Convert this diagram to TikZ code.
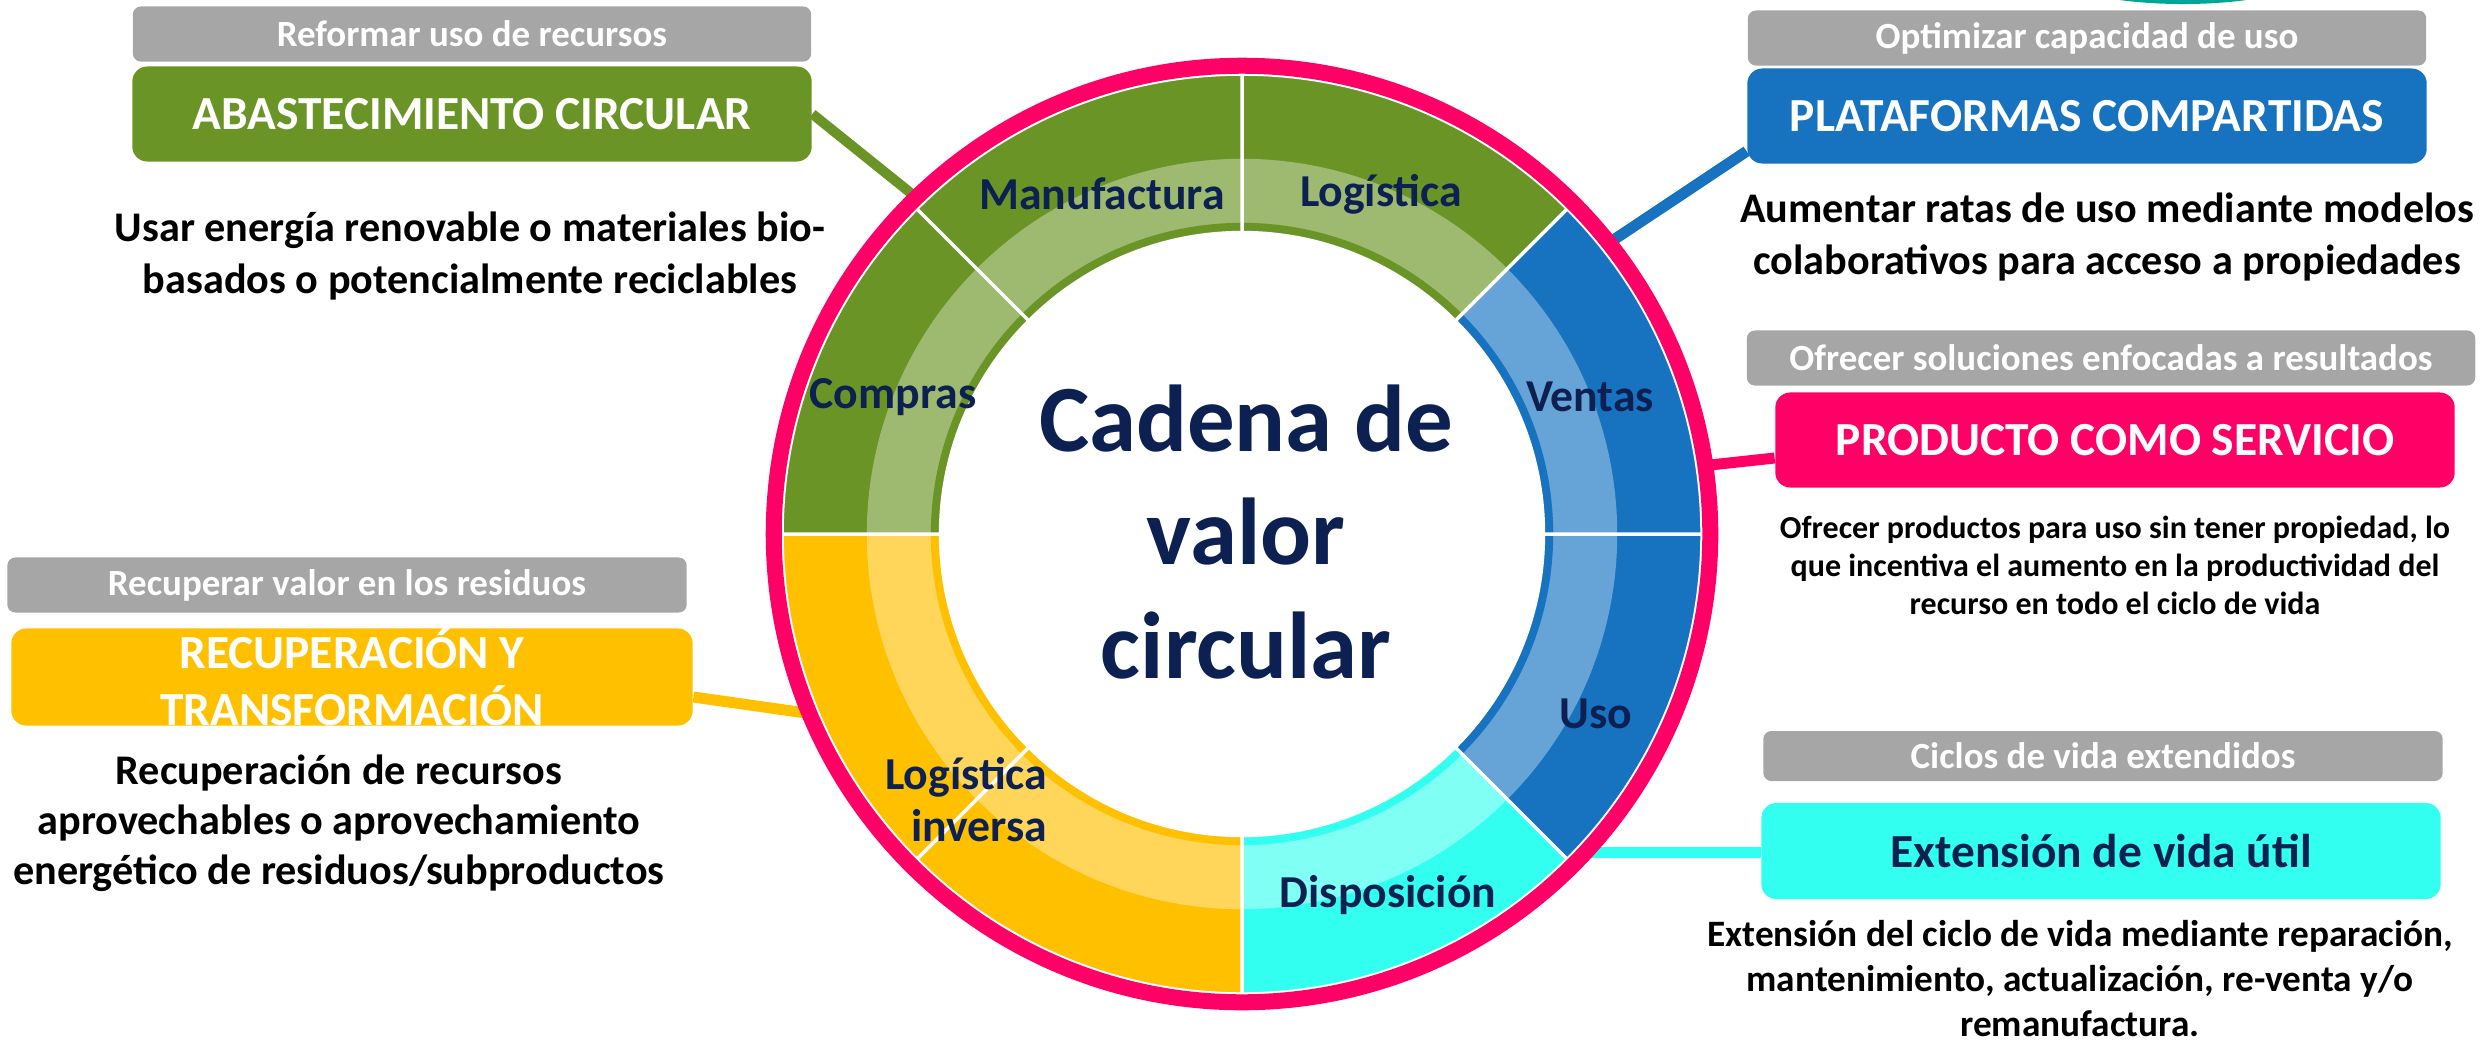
\documentclass[tikz,border=0pt]{standalone}
\usepackage{xcolor}
\usepackage{fontspec}
\setmainfont{Carlito}
\usepackage{tikz}

\definecolor{verdeO}{HTML}{6A9526}
\definecolor{verdeC}{HTML}{9EB970}
\definecolor{azulO}{HTML}{1772BF}
\definecolor{azulC}{HTML}{66A3D6}
\definecolor{cianO}{HTML}{33FFF0}
\definecolor{cianC}{HTML}{80FFF5}
\definecolor{amarO}{HTML}{FFC000}
\definecolor{amarC}{HTML}{FFD55A}
\definecolor{rosa}{HTML}{FF0066}
\definecolor{gris}{HTML}{A6A6A6}
\definecolor{marino}{HTML}{0C2152}
\definecolor{verdeAzul}{HTML}{00A696}

\begin{document}
\begin{tikzpicture}[x=0.01cm,y=0.01cm]
		\tikzstyle{every node}+=[inner sep=0pt]
		\tikzstyle{etiqueta}=[fill=gris, rounded corners=0.08cm, text=white, minimum height=0.55cm, font=\bfseries\fontsize{10.5}{12.6}\selectfont]
		\tikzstyle{caja}=[rounded corners=0.15cm, minimum width=6.79cm, minimum height=0.95cm, text=white, align=center, font=\bfseries\fontsize{13.5}{16.2}\selectfont]
		\tikzstyle{texto}=[align=center, font=\bfseries\fontsize{12}{14.8}\selectfont]
		\tikzstyle{seg}=[text=marino, align=right, font=\bfseries\fontsize{13}{14.8}\selectfont]
		\tikzstyle{enlace}=[line width=0.11cm]
		\useasboundingbox (0,0) rectangle (2483,1044);
		\clip (0,0) rectangle (2483,1044);
		% trozo cortado arriba
		\fill [verdeAzul] (2183,1070) ellipse [x radius=1.27cm, y radius=0.3cm];
		% centro y puntos del anillo
		\coordinate (c) at (1242,510);
		\coordinate (pVerde) at ([shift={(134.1:4.7cm)}]c);
		\coordinate (pAzul) at ([shift={(38.4:4.7cm)}]c);
		\coordinate (pRosa) at ([shift={(8.4:4.7cm)}]c);
		\coordinate (pAmar) at ([shift={(202.4:4.7cm)}]c);
		\coordinate (pCian) at ([shift={(-42.6:4.7cm)}]c);
		% cajas
		\node [etiqueta, minimum width=6.78cm] (abastTag) at (472,1010) {Reformar uso de recursos};
		\node [caja, fill=verdeO] (abast) at (472,930) {ABASTECIMIENTO CIRCULAR};
		\node [texto] (abastTxt) at (470,788) {Usar energía renovable o materiales bio-\\basados o potencialmente reciclables};
		\node [etiqueta, minimum width=6.78cm] (platTag) at (2087,1006) {Optimizar capacidad de uso};
		\node [caja, fill=azulO] (plat) at (2087,928) {PLATAFORMAS COMPARTIDAS};
		\node [texto] (platTxt) at (2107,807) {Aumentar ratas de uso mediante modelos\\colaborativos para acceso a propiedades};
		\node [etiqueta, minimum width=7.28cm] (prodTag) at (2111,686) {Ofrecer soluciones enfocadas a resultados};
		\node [caja, fill=rosa] (prod) at (2115,604) {PRODUCTO COMO SERVICIO};
		\node [texto, font=\bfseries\fontsize{9.1}{10.8}\selectfont] (prodTxt) at (2115,479) {Ofrecer productos para uso sin tener propiedad, lo\\que incentiva el aumento en la productividad del\\recurso en todo el ciclo de vida};
		\node [etiqueta, minimum width=6.79cm] (recupTag) at (347,459) {Recuperar valor en los residuos};
		\node [caja, fill=amarO, minimum width=6.81cm] (recup) at (352,367) {RECUPERACIÓN Y\\TRANSFORMACIÓN};
		\node [texto, font=\bfseries\fontsize{12}{14.2}\selectfont] (recupTxt) at (339,221) {Recuperación de recursos\\aprovechables o aprovechamiento\\energético de residuos/subproductos};
		\node [etiqueta, minimum width=6.79cm, minimum height=0.5cm] (extTag) at (2103,288) {Ciclos de vida extendidos};
		\node [caja, fill=cianO, text=marino, minimum height=0.96cm] (ext) at (2101,193) {Extensión de vida útil};
		\node [texto, font=\bfseries\fontsize{10.6}{12.8}\selectfont] (extTxt) at (2080,65) {Extensión del ciclo de vida mediante reparación,\\mantenimiento, actualización, re-venta y/o\\remanufactura.};
		% enlaces
		\draw [verdeO, line width=0.1cm] (abast.east) -- (pVerde);
		\draw [azulO, enlace] ([yshift=0.13cm]plat.south west) -- (pAzul);
		\draw [rosa, enlace] ([yshift=-0.18cm]prod.west) -- (pRosa);
		\draw [amarO, enlace] ([yshift=-0.2cm]recup.east) -- (pAmar);
		\draw [cianO, enlace] (ext.west |- pCian) -- (pCian);
		% rueda
		\fill [verdeO] (c) -- ++(45:4.59cm) arc [start angle=45, end angle=180, radius=4.59cm] -- cycle;
		\fill [verdeC] (c) -- ++(45:3.75cm) arc [start angle=45, end angle=180, radius=3.75cm] -- cycle;
		\fill [verdeO] (c) -- ++(45:3.11cm) arc [start angle=45, end angle=180, radius=3.11cm] -- cycle;
		\fill [azulO] (c) -- ++(-45:4.59cm) arc [start angle=-45, end angle=45, radius=4.59cm] -- cycle;
		\fill [azulC] (c) -- ++(-45:3.75cm) arc [start angle=-45, end angle=45, radius=3.75cm] -- cycle;
		\fill [azulO] (c) -- ++(-45:3.11cm) arc [start angle=-45, end angle=45, radius=3.11cm] -- cycle;
		\fill [cianO] (c) -- ++(-90:4.59cm) arc [start angle=-90, end angle=-45, radius=4.59cm] -- cycle;
		\fill [cianC] (c) -- ++(-90:3.75cm) arc [start angle=-90, end angle=-45, radius=3.75cm] -- cycle;
		\fill [cianO] (c) -- ++(-90:3.11cm) arc [start angle=-90, end angle=-45, radius=3.11cm] -- cycle;
		\fill [amarO] (c) -- ++(180:4.59cm) arc [start angle=180, end angle=270, radius=4.59cm] -- cycle;
		\fill [amarC] (c) -- ++(180:3.75cm) arc [start angle=180, end angle=270, radius=3.75cm] -- cycle;
		\fill [amarO] (c) -- ++(180:3.11cm) arc [start angle=180, end angle=270, radius=3.11cm] -- cycle;
		\draw [white, line width=0.035cm] (c) -- ++(0:4.6cm) (c) -- ++(45:4.6cm) (c) -- ++(90:4.6cm) (c) -- ++(135:4.6cm)
			(c) -- ++(180:4.6cm) (c) -- ++(225:4.6cm) (c) -- ++(270:4.6cm) (c) -- ++(315:4.6cm);
		\draw [white, line width=0.03cm] (c) circle (4.595cm);
		\fill [white] (c) circle (3.03cm);
		\draw [rosa, line width=0.16cm] (c) circle (4.68cm);
		% textos de la rueda
		\node [text=marino, align=center, font=\bfseries\fontsize{27}{32.4}\selectfont] (titulo) at (1246,512) {Cadena de\\valor\\circular};
		\node [seg] (manu) at (1102,850) {Manufactura};
		\node [seg] (logi) at (1381,850) {Logística};
		\node [seg] (comp) at (893,647) {Compras};
		\node [seg] (vent) at (1590,647) {Ventas};
		\node [seg] (uso) at (1596,330) {Uso};
		\node [seg] (disp) at (1388,149) {Disposición};
		\node [seg, anchor=east] (inv) at (1048,244) {Logística\\inversa};
	\end{tikzpicture}
\end{document}
